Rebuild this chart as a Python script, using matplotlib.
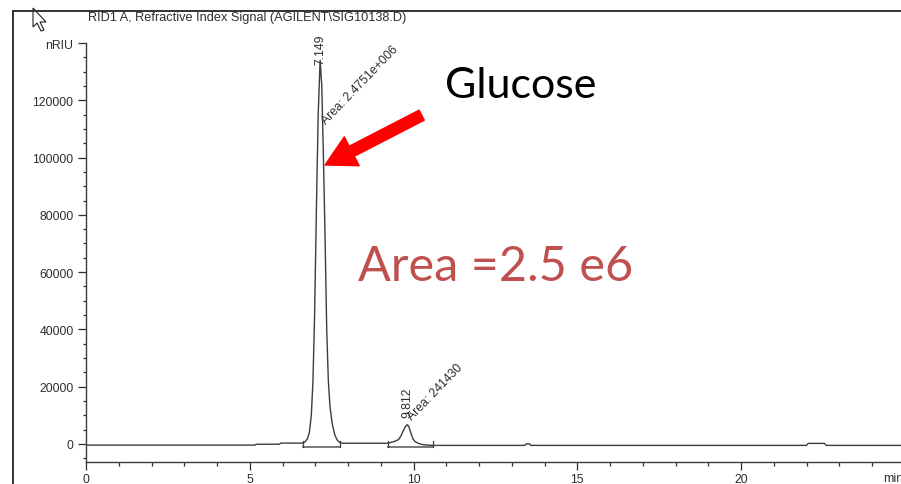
#!/usr/bin/env python3
"""RID chromatogram of the glucose standard, with peak annotations."""

import matplotlib
matplotlib.use("Agg")
import matplotlib.pyplot as plt
from matplotlib.lines import Line2D
from matplotlib.patches import Polygon
from matplotlib.ticker import MultipleLocator

W, H = 901, 485
TRACE = "#3C3C3C"
TEXT = "#2E2E2E"
BASE = "#6E6E6E"
ACCENT = "#C0504D"

plt.rcParams.update({"font.family": ["Liberation Sans", "DejaVu Sans"]})

# Detector trace (min, nRIU)
time_min = [
    0.0, 5.15, 5.20, 5.90, 5.95, 6.60, 6.64,
    6.70, 6.76, 6.82, 6.88, 6.93, 6.98, 7.04, 7.09, 7.149, 7.20, 7.25,
    7.30, 7.35, 7.40, 7.45, 7.52, 7.60, 7.68, 7.76, 7.85,
    9.20, 9.30, 9.45, 9.55, 9.62, 9.70, 9.76, 9.812, 9.86, 9.92, 9.98,
    10.05, 10.15, 10.30, 10.60,
    13.40, 13.43, 13.55, 13.58,
    22.00, 22.05, 22.55, 22.60, 24.9,
]
signal_nriu = [
    -400, -400, -100, -100, 300, 300, 400,
    900, 1800, 4000, 10000, 22000, 45000, 85000, 115000, 134000, 125000, 100000,
    72000, 40000, 22000, 13000, 7000, 3000, 1200, 400, 250,
    250, 500, 1000, 1600, 2900, 4900, 6200, 6700, 6000, 3800, 1800,
    800, 200, -300, -500,
    -500, 0, 0, -500,
    -500, 200, 200, -500, -500,
]

# Integrated peaks
peak_rt = [7.149, 9.812]
peak_height = [134000, 6700]
peak_area = ["2.4751e+006", "241430"]
peak_start = [6.64, 9.23]
peak_end = [7.76, 10.60]
baseline_level = [-1100, -1200]

x_ticks = [0, 5, 10, 15, 20]
y_ticks = [0, 20000, 40000, 60000, 80000, 100000, 120000, 140000]
y_labels = ["0", "20000", "40000", "60000", "80000", "100000", "120000", "nRIU"]

fig = plt.figure(figsize=(W / 100, H / 100), dpi=100)
fig.patch.set_facecolor("white")
ax = fig.add_axes([86 / W, 22 / H, (W - 86) / W, (463 - 44) / H])
ax.set_facecolor("white")

ax.plot(time_min, signal_nriu, color=TRACE, linewidth=1.0)

# label placement per peak: (rt label y offset, area label dx, area label y)
label_pos = [(-1500, 0.26, 111000), (2700, 0.20, 7600)]

for rt, h, area, t0, t1, b, (dy, adx, ay) in zip(
        peak_rt, peak_height, peak_area, peak_start, peak_end,
        baseline_level, label_pos):
    ax.plot([t0, t1], [b, b], color=BASE, linewidth=1.3)
    ax.plot([t0, t0], [b, b + 2200], color=TRACE, linewidth=0.9)
    ax.plot([t1, t1], [b, b + 2200], color=TRACE, linewidth=0.9)
    ax.text(rt, h + dy, f"{rt:.3f}", rotation=90, ha="center", va="bottom",
            fontsize=8.8, color=TEXT)
    ax.text(rt + adx, ay, f"Area: {area}", rotation=46,
            rotation_mode="anchor", ha="left", va="bottom",
            fontsize=8.8, color=TEXT)

ax.set_xlim(0, (W - 86) / 32.75)
ax.set_ylim(-6300, 140000)
ax.set_xticks(x_ticks)
ax.xaxis.set_minor_locator(MultipleLocator(1))
ax.set_yticks(y_ticks)
ax.set_yticklabels(y_labels)
ax.yaxis.set_minor_locator(MultipleLocator(5000))
ax.tick_params(axis="both", which="major", direction="out", colors=TEXT,
               labelsize=8.8, width=0.9)
ax.tick_params(axis="y", which="major", length=6, pad=3)
ax.tick_params(axis="y", which="minor", length=2.5, width=0.9, colors=TEXT)
ax.tick_params(axis="x", which="major", length=6, pad=2)
ax.tick_params(axis="x", which="minor", length=3, width=0.9, colors=TEXT)
for side in ("top", "right"):
    ax.spines[side].set_visible(False)
for side in ("left", "bottom"):
    ax.spines[side].set_color(TRACE)
    ax.spines[side].set_linewidth(1.0)

# window frame, title and unit label
fig.add_artist(Line2D([13 / W, 13 / W], [0, 1 - 12 / H],
                      transform=fig.transFigure, color="#333333", linewidth=1.4))
fig.add_artist(Line2D([13 / W, 1], [1 - 12 / H, 1 - 12 / H],
                      transform=fig.transFigure, color="#333333", linewidth=1.4))
fig.text(88 / W, 1 - 18 / H,
         "RID1 A, Refractive Index Signal (AGILENT\\SIG10138.D)",
         ha="left", va="center", fontsize=9.2, color=TEXT)
fig.text(883 / W, 1 - 479 / H, "min", ha="left", va="center",
         fontsize=8.8, color=TEXT)

# pointer cursor
cursor_px = [(33, 9), (33, 28), (37, 24), (41, 32), (44, 31), (40, 23), (46, 23)]
fig.add_artist(Polygon([(x / W, 1 - y / H) for x, y in cursor_px], closed=True,
                       transform=fig.transFigure, facecolor="white",
                       edgecolor="#222222", linewidth=0.8))

# callouts
ax.annotate("", xy=(7.30, 97400), xytext=(10.25, 114800),
            arrowprops=dict(arrowstyle="simple,head_length=1.2,head_width=1.3,tail_width=0.45",
                            mutation_scale=18, color="#FF0000",
                            shrinkA=0, shrinkB=0))
fig.text(445 / W, 1 - 86 / H, "Glucose", ha="left", va="center",
         fontsize=31, family=["Lato", "DejaVu Sans"], color="black")
fig.text(358 / W, 1 - 267 / H, "Area =2.5 e6", ha="left", va="center",
         fontsize=35, family=["Lato", "DejaVu Sans"], color=ACCENT)

fig.savefig("out.png", dpi=100, facecolor="white")
